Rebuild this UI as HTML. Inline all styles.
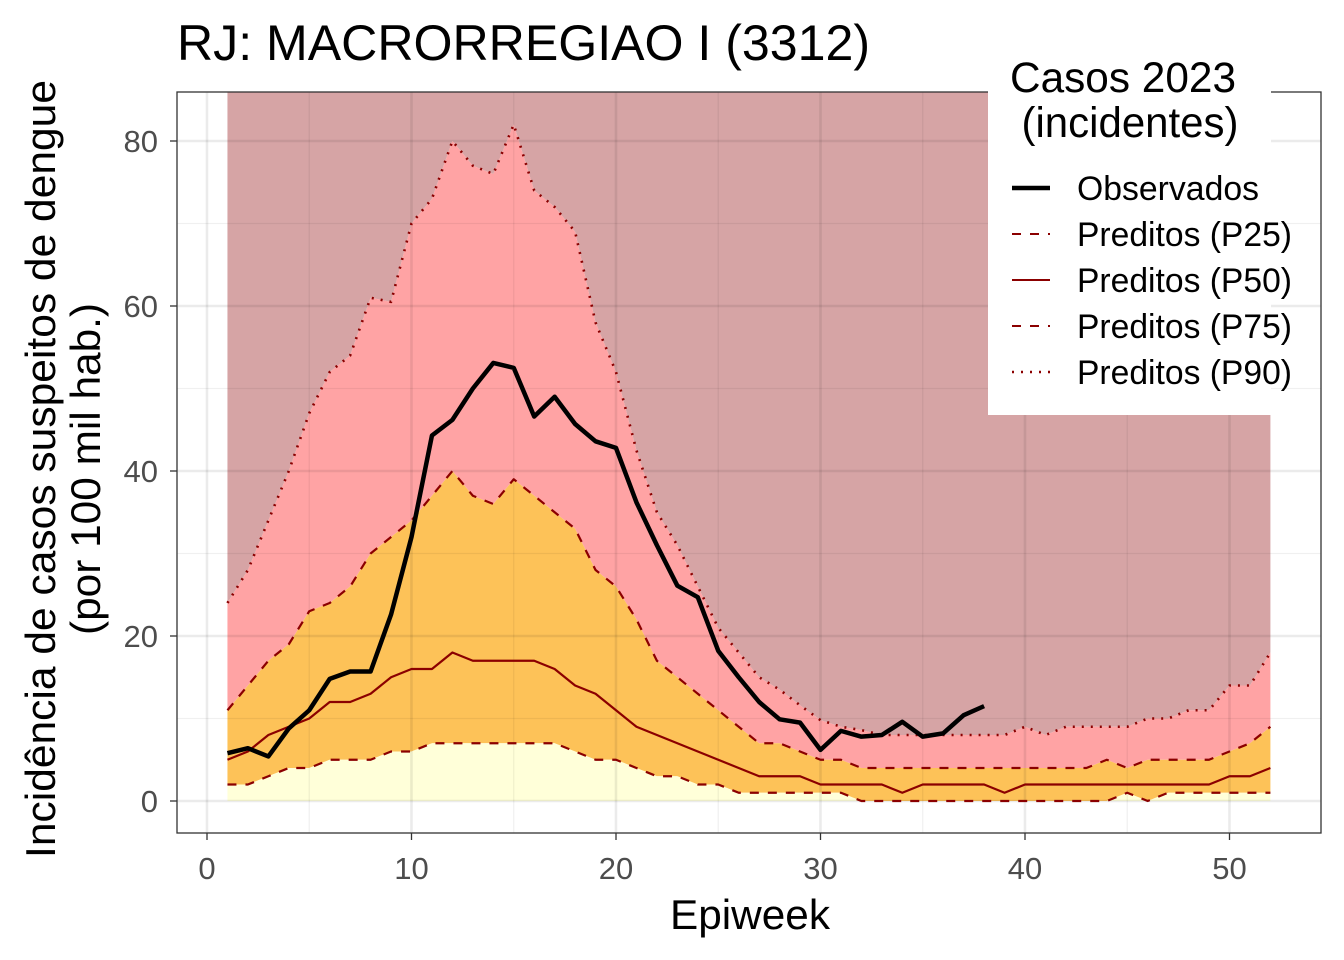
<!DOCTYPE html>
<html><head><meta charset="utf-8"><style>
html,body{margin:0;padding:0;background:#fff;}
svg{display:block;font-family:"Liberation Sans",sans-serif;}
</style></head><body>
<svg id="chart" width="1344" height="960" viewBox="0 0 1344 960" xmlns="http://www.w3.org/2000/svg">
<rect x="0" y="0" width="1344" height="960" fill="#fff"/>
<text x="177" y="60" font-size="50" fill="#000" textLength="693" lengthAdjust="spacingAndGlyphs">RJ: MACRORREGIAO I (3312)</text>
<g id="plot"></g>
<text x="750" y="929" font-size="42" text-anchor="middle" textLength="160" lengthAdjust="spacingAndGlyphs">Epiweek</text>
<g transform="translate(55,469) rotate(-90)">
<text x="0" y="0" font-size="42" text-anchor="middle" textLength="778" lengthAdjust="spacingAndGlyphs">Incidência de casos suspeitos de dengue</text>
<text x="0" y="45" font-size="42" text-anchor="middle" textLength="332" lengthAdjust="spacingAndGlyphs">(por 100 mil hab.)</text>
</g>
<g>
<rect x="988" y="48" width="283" height="367" fill="#fff"/>
<text x="1123" y="92" font-size="43" text-anchor="middle" textLength="226" lengthAdjust="spacingAndGlyphs">Casos 2023</text>
<text x="1130" y="137" font-size="43" text-anchor="middle" textLength="217" lengthAdjust="spacingAndGlyphs">(incidentes)</text>
<g><line x1="1012" y1="188" x2="1050" y2="188" stroke="#000" stroke-width="4.5"/><text x="1077" y="200" font-size="34" textLength="182" lengthAdjust="spacingAndGlyphs">Observados</text></g>
<g><line x1="1012" y1="234" x2="1050" y2="234" stroke="#8B0000" stroke-width="2" stroke-dasharray="9,9"/><text x="1077" y="246" font-size="34" textLength="215" lengthAdjust="spacingAndGlyphs">Preditos (P25)</text></g>
<g><line x1="1012" y1="280" x2="1050" y2="280" stroke="#8B0000" stroke-width="2"/><text x="1077" y="292" font-size="34" textLength="215" lengthAdjust="spacingAndGlyphs">Preditos (P50)</text></g>
<g><line x1="1012" y1="326" x2="1050" y2="326" stroke="#8B0000" stroke-width="2" stroke-dasharray="9,9"/><text x="1077" y="338" font-size="34" textLength="215" lengthAdjust="spacingAndGlyphs">Preditos (P75)</text></g>
<g><line x1="1012" y1="372" x2="1050" y2="372" stroke="#8B0000" stroke-width="2.5" stroke-dasharray="2,7"/><text x="1077" y="384" font-size="34" textLength="215" lengthAdjust="spacingAndGlyphs">Preditos (P90)</text></g>
</g>
</svg>
<script>
const weeks = Array.from({length:52},(_,i)=>i+1);
const observed = [5.8,6.4,5.4,8.8,11,14.8,15.7,15.7,22.6,32,44.3,46.2,50,53.1,52.5,46.6,49,45.7,43.6,42.8,36.2,31,26.1,24.7,18.2,15,12,9.9,9.5,6.2,8.5,7.8,8,9.6,7.8,8.2,10.4,11.5];
const p25 = [2,2,3,4,4,5,5,5,6,6,7,7,7,7,7,7,7,6,5,5,4,3,3,2,2,1,1,1,1,1,1,0,0,0,0,0,0,0,0,0,0,0,0,0,1,0,1,1,1,1,1,1];
const p50 = [5,6,8,9,10,12,12,13,15,16,16,18,17,17,17,17,16,14,13,11,9,8,7,6,5,4,3,3,3,2,2,2,2,1,2,2,2,2,1,2,2,2,2,2,2,2,2,2,2,3,3,4];
const p75 = [11,14,17,19,23,24,26,30,32,34,37,40,37,36,39,37,35,33,28,26,22,17,15,13,11,9,7,7,6,5,5,4,4,4,4,4,4,4,4,4,4,4,4,5,4,5,5,5,5,6,7,9];
const p90 = [24,28,34,40,47,52,54,61,60.5,70,73,80,77,76,82,74,72,69,58,52,42.5,35,31,26,21,18,15,13.5,11.6,9.8,9,8.6,8,8,8,8,8,8,8,9,8,9,9,9,9,10,10,11,11,14,14,18];
const xTicks = [0,10,20,30,40,50];
const yTicks = [0,20,40,60,80];

const L=177,R=1321,T=92,B=833;
const xs = v => 207 + (v)*20.45;
const ys = v => 801 - v*8.25;
const NS="http://www.w3.org/2000/svg";
const g=document.getElementById('plot');
function mk(tag,attrs,parent){const e=document.createElementNS(NS,tag);for(const k in attrs)e.setAttribute(k,attrs[k]);(parent||g).appendChild(e);return e;}

mk('rect',{x:L,y:T,width:R-L,height:B-T,fill:'#fff'});
function pts(arr){return arr.map((v,i)=>xs(weeks[i])+','+ys(v));}
function band(lo,hi,color,name){
  const top = hi? pts(hi) : [xs(1)+','+T, xs(52)+','+T];
  const bot = lo? pts(lo).reverse() : [xs(52)+','+ys(0), xs(1)+','+ys(0)];
  const e=mk('polygon',{points:top.concat(bot).join(' '),fill:color});
  
  
}
band(p90,null,'#D6A4A5','band-above-p90');
band(p75,p90,'#FFA3A4','band-p75-p90');
band(p25,p75,'#FDC258','band-p25-p75');
band(null,p25,'#FFFFD9','band-below-p25');

for(let v=5; v<=55; v+=10){ if(xs(v)<R) mk('line',{x1:xs(v),x2:xs(v),y1:T,y2:B,stroke:'rgba(0,0,0,0.06)','stroke-width':1.3}); }
for(let v=10; v<=90; v+=20){ if(ys(v)>T) mk('line',{x1:L,x2:R,y1:ys(v),y2:ys(v),stroke:'rgba(0,0,0,0.06)','stroke-width':1.3}); }
xTicks.forEach(v=>{mk('line',{x1:xs(v),x2:xs(v),y1:T,y2:B,stroke:'rgba(0,0,0,0.08)','stroke-width':2.6});});
yTicks.forEach(v=>{mk('line',{x1:L,x2:R,y1:ys(v),y2:ys(v),stroke:'rgba(0,0,0,0.08)','stroke-width':2.6});});

function line(arr,attrs,name){
  const e=mk('polyline',Object.assign({points:pts(arr).join(' '),fill:'none','stroke-linejoin':'round'},attrs));
  
  
}
line(p25,{stroke:'#8B0000','stroke-width':2.2,'stroke-dasharray':'9,9'},'line-p25');
line(p50,{stroke:'#8B0000','stroke-width':2.2},'line-p50');
line(p75,{stroke:'#8B0000','stroke-width':2.2,'stroke-dasharray':'9,9'},'line-p75');
line(p90,{stroke:'#8B0000','stroke-width':2.6,'stroke-dasharray':'2,7'},'line-p90');
line(observed,{stroke:'#000','stroke-width':4.5},'line-observed');

mk('rect',{x:L,y:T,width:R-L,height:B-T,fill:'none',stroke:'#333','stroke-width':1.3});
xTicks.forEach(v=>{
  mk('line',{x1:xs(v),x2:xs(v),y1:B,y2:B+7,stroke:'#333','stroke-width':1.3});
  const t=mk('text',{x:xs(v),y:879,'font-size':31,fill:'#4d4d4d','text-anchor':'middle'});
  t.textContent=v;
  
  
});
yTicks.forEach(v=>{
  mk('line',{x1:L-7,x2:L,y1:ys(v),y2:ys(v),stroke:'#333','stroke-width':1.3});
  const t=mk('text',{x:158,y:ys(v)+11,'font-size':31,fill:'#4d4d4d','text-anchor':'end'});
  t.textContent=v;
  
  
});
</script>
</body></html>
